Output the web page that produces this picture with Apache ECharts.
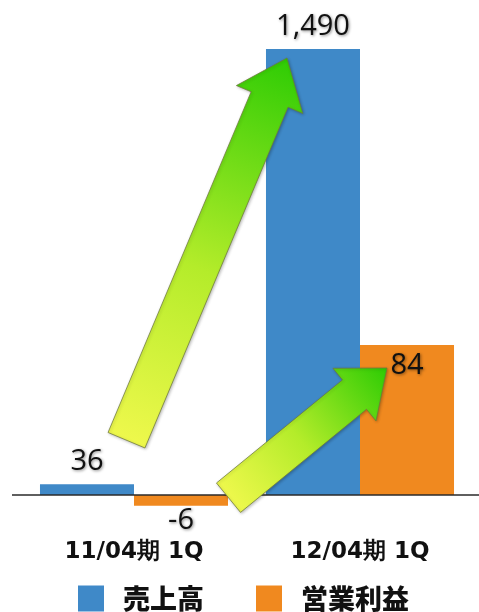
<!DOCTYPE html>
<html>
<head>
<meta charset="utf-8">
<script src="https://cdn.jsdelivr.net/npm/echarts@6/dist/echarts.min.js"></script>
<style>
html,body{margin:0;padding:0;background:#fff;}
#main{width:479px;height:612px;}
</style>
</head>
<body>
<div id="main"></div>
<script>
const categories = ['11/04期 1Q', '12/04期 1Q'];
const seriesNames = ['売上高', '営業利益'];
const salesValues = [36, 1490];
const profitValues = [-6, 84];

const BLUE = '#3f89c8';
const ORANGE = '#f0891f';

const chart = echarts.init(document.getElementById('main'), null, {renderer: 'canvas'});

const valueLabel = {
  show: true,
  fontFamily: 'Open Sans',
  fontSize: 29,
  color: '#111',
  textShadowColor: 'rgba(0,0,0,0.45)',
  textShadowBlur: 3,
  textShadowOffsetX: 1,
  textShadowOffsetY: 1,
  formatter: p => p.value.toLocaleString('en-US')
};

function labelFor(v, pos, dist) {
  return {value: v, label: Object.assign({}, valueLabel, {position: pos, distance: dist})};
}

const option = {
  backgroundColor: '#fff',
  animation: false,
  grid: {left: 21, right: 6, top: 40, height: 475},
  legend: {
    data: seriesNames,
    bottom: -5,
    left: 73,
    icon: 'rect',
    itemWidth: 26,
    itemHeight: 26,
    itemGap: 52,
    textStyle: {
      fontFamily: 'Noto Sans CJK JP',
      fontWeight: 900,
      fontSize: 27,
      color: '#111',
      padding: [0, 0, 0, 14]
    }
  },
  xAxis: {
    type: 'category',
    data: categories,
    axisLine: {show: false},
    axisTick: {show: false},
    axisLabel: {
      margin: 26,
      fontFamily: 'DejaVu Sans',
      fontWeight: 'bold',
      fontSize: 23,
      color: '#111'
    }
  },
  yAxis: [
    {type: 'value', min: -66.8, max: 1520.1, show: false, splitLine: {show: false}},
    {type: 'value', min: -11.2, max: 254.8, show: false, splitLine: {show: false}}
  ],
  series: [
    {
      name: seriesNames[0],
      type: 'bar',
      yAxisIndex: 0,
      barGap: '0%',
      barCategoryGap: '16.8%',
      itemStyle: {color: BLUE},
      data: salesValues.map(v => labelFor(v, 'top', 8))
    },
    {
      name: seriesNames[1],
      type: 'bar',
      yAxisIndex: 1,
      barGap: '0%',
      barCategoryGap: '16.8%',
      itemStyle: {color: ORANGE},
      data: profitValues.map(v => v < 0 ? labelFor(v, 'bottom', 1) : labelFor(v, 'insideTop', 6))
    }
  ]
};
chart.setOption(option);

// decorative arrows and baseline, anchored to the chart's own scales
function px(catIdx, v, axis) {
  return chart.convertToPixel({xAxisIndex: 0, yAxisIndex: axis}, [catIdx, v]);
}
function arrowPoints(tail, tip, sw, hw, hl) {
  const dx = tip[0] - tail[0], dy = tip[1] - tail[1];
  const len = Math.sqrt(dx * dx + dy * dy);
  const ux = dx / len, uy = dy / len;
  const nx = -uy, ny = ux;
  const bx = tip[0] - ux * hl, by = tip[1] - uy * hl;
  return [
    [tail[0] + nx * sw / 2, tail[1] + ny * sw / 2],
    [bx + nx * sw / 2, by + ny * sw / 2],
    [bx + nx * hw / 2, by + ny * hw / 2],
    tip,
    [bx - nx * hw / 2, by - ny * hw / 2],
    [bx - nx * sw / 2, by - ny * sw / 2],
    [tail[0] - nx * sw / 2, tail[1] - ny * sw / 2]
  ];
}
function arrowGraphic(tail, tip, sw, hw, hl) {
  return {
    type: 'polygon',
    z: 100,
    shape: {points: arrowPoints(tail, tip, sw, hw, hl)},
    style: {
      fill: {
        type: 'linear', global: true,
        x: tail[0], y: tail[1], x2: tip[0], y2: tip[1],
        colorStops: [
          {offset: 0, color: '#eef84c'},
          {offset: 0.45, color: '#b4ec2a'},
          {offset: 1, color: '#2ecc04'}
        ]
      },
      stroke: 'rgba(110,120,60,0.75)',
      lineWidth: 1,
      shadowColor: 'rgba(0,0,0,0.25)',
      shadowBlur: 3,
      shadowOffsetX: 1,
      shadowOffsetY: 1
    }
  };
}

const b0 = px(0, salesValues[0], 0);
const b1 = px(1, salesValues[1], 0);
const o0 = px(0, profitValues[0], 1);
const o1 = px(1, profitValues[1], 1);
const zero = px(0, 0, 0);

chart.setOption({
  graphic: [
    {
      type: 'line', z: 50,
      shape: {x1: 12, y1: zero[1], x2: 479, y2: zero[1]},
      style: {stroke: '#2a2a2a', lineWidth: 1.5}
    },
    arrowGraphic([b0[0] - 7.5, b0[1] - 44], [b1[0] - 73, b1[1] + 9], 40, 72, 45),
    arrowGraphic([o0[0] + 94.5, o0[1] - 8], [o1[0] + 27, o1[1] + 23], 38, 68, 42)
  ]
});
</script>
</body>
</html>
